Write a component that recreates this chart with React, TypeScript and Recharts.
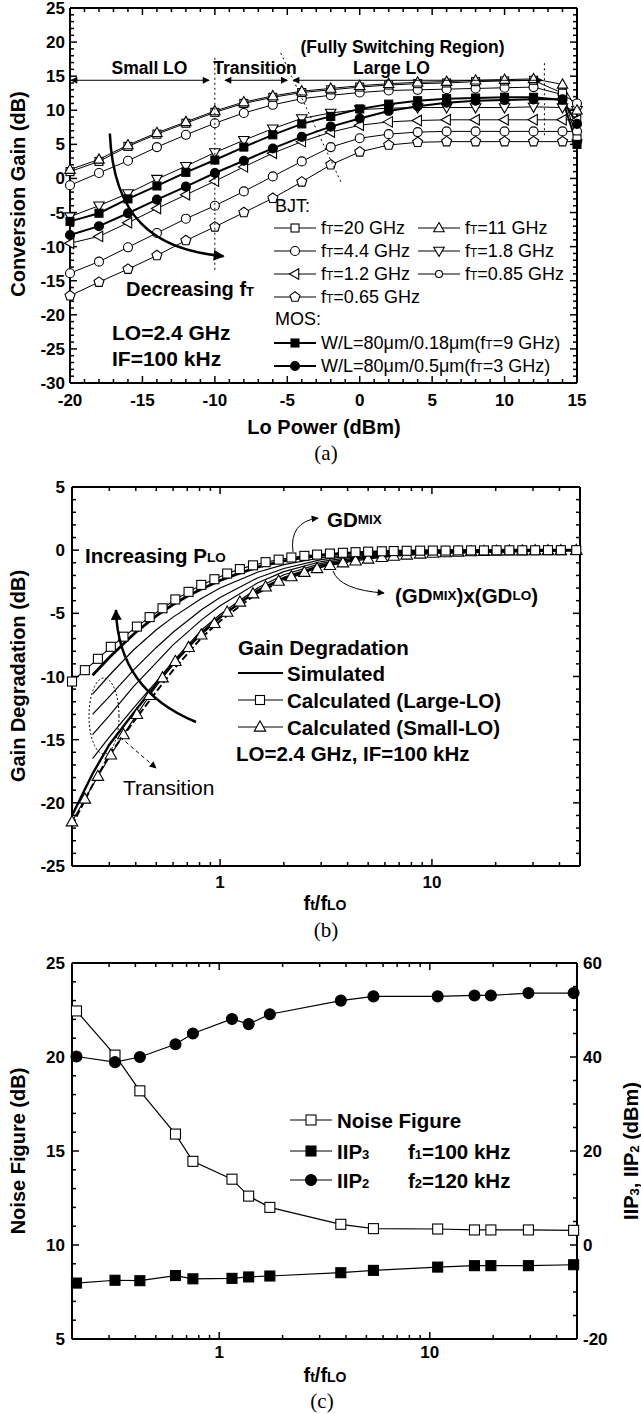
import React from "react";
import { ComposedChart, Line, XAxis, YAxis, ReferenceLine } from "recharts";

const SANS = '"Liberation Sans", Arial, Helvetica, sans-serif';
const SERIF = '"Liberation Serif", "Times New Roman", Times, serif';

// (a) conversion gain vs LO power
const loPower = [-20, -18, -16, -14, -12, -10, -8, -6, -4, -2, 0, 2, 4, 6, 8, 10, 12, 14, 15];
const bjt20 = [1.0, 2.5, 4.7, 6.5, 8.1, 9.7, 11.0, 11.9, 12.6, 13.0, 13.4, 13.7, 13.9, 14.0, 14.2, 14.3, 14.4, 12.5, 5.8];
const bjt11 = [1.3, 2.8, 4.9, 6.7, 8.3, 9.9, 11.2, 12.1, 12.8, 13.2, 13.6, 13.9, 14.1, 14.2, 14.4, 14.5, 14.6, 13.8, 10.0];
const bjt4p4 = [-1.0, 0.8, 2.6, 4.6, 6.4, 8.1, 9.6, 10.8, 11.7, 12.2, 12.6, 12.9, 13.0, 13.1, 13.2, 13.3, 13.4, 12.3, 11.0];
const bjt1p8 = [-5.6, -4.0, -2.2, -0.1, 1.8, 3.8, 5.6, 7.3, 8.8, 9.6, 10.1, 10.3, 10.4, 10.4, 10.4, 10.4, 10.5, 10.4, 10.0];
const bjt1p2 = [-9.5, -8.5, -6.5, -4.4, -2.4, -0.4, 1.7, 3.7, 5.4, 6.8, 7.8, 8.3, 8.5, 8.6, 8.6, 8.6, 8.6, 8.6, 8.6];
const bjt0p85 = [-13.9, -12.2, -10.1, -8.0, -5.9, -4.0, -1.9, 0.3, 2.5, 4.6, 5.9, 6.5, 6.8, 6.9, 6.9, 6.9, 6.9, 6.9, 6.9];
const bjt0p65 = [-17.2, -15.2, -13.3, -11.3, -9.1, -7.1, -5.0, -2.9, -0.5, 2.0, 3.9, 4.9, 5.3, 5.4, 5.4, 5.4, 5.4, 5.4, 5.4];
const mos018 = [-6.3, -5.1, -3.0, -1.1, 0.9, 2.7, 4.6, 6.4, 8.0, 9.1, 10.2, 10.9, 11.4, 11.7, 11.8, 11.9, 11.9, 11.5, 5.0];
const mos05 = [-8.3, -7.0, -5.1, -3.1, -1.2, 0.8, 2.6, 4.4, 6.1, 7.6, 8.8, 9.9, 10.6, 11.1, 11.4, 11.5, 11.6, 11.6, 8.0];
const powerTicks = [-20, -15, -10, -5, 0, 5, 10, 15];
const gainTicks = [-30, -25, -20, -15, -10, -5, 0, 5, 10, 15, 20, 25];

// (b) gain degradation vs ft/fLO
const calcRatio = [0.2, 0.23, 0.265, 0.305, 0.35, 0.405, 0.465, 0.535, 0.615, 0.71, 0.815, 0.94, 1.08, 1.24, 1.43, 1.64, 1.89, 2.17, 2.5, 2.87, 3.3, 3.8, 4.36, 5.0, 5.8, 6.6, 7.6, 8.8, 10.1, 11.6, 13.3, 15.3, 17.6, 20.2, 23.2, 26.7, 30.7, 35.3, 40.6, 48];
const gdLargeLo = [-10.4, -9.5, -8.6, -7.65, -6.85, -6.05, -5.3, -4.6, -3.9, -3.3, -2.75, -2.3, -1.85, -1.5, -1.2, -0.95, -0.75, -0.58, -0.45, -0.35, -0.27, -0.21, -0.16, -0.12, -0.09, -0.07, -0.05, -0.04, -0.03, -0.03, -0.02, -0.02, -0.02, -0.01, -0.01, -0.01, -0.01, 0, 0, 0];
const gdSmallLo = [-21.5, -19.7, -17.9, -16.2, -14.6, -13.0, -11.5, -10.1, -8.8, -7.7, -6.7, -5.8, -4.9, -4.1, -3.45, -2.9, -2.45, -2.1, -1.75, -1.45, -1.2, -1.0, -0.85, -0.7, -0.57, -0.47, -0.38, -0.3, -0.24, -0.19, -0.15, -0.12, -0.1, -0.08, -0.06, -0.05, -0.04, -0.03, -0.03, -0.02];
const simRatio = [0.25, 0.3, 0.39, 0.5, 0.6, 0.82, 1.0, 1.5, 2, 3, 5, 10, 50];
const simA = [-11.4, -9.9, -7.9, -6.3, -5.3, -3.8, -3.0, -1.75, -1.15, -0.6, -0.25, -0.08, 0];
const simB = [-13.0, -11.6, -9.5, -7.7, -6.5, -4.7, -3.75, -2.2, -1.45, -0.75, -0.3, -0.1, 0];
const simC = [-14.6, -13.1, -10.8, -8.9, -7.5, -5.5, -4.4, -2.6, -1.7, -0.9, -0.37, -0.12, 0];
const simD = [-16.5, -14.8, -12.5, -10.4, -8.8, -6.3, -5.1, -3.0, -1.95, -1.05, -0.45, -0.15, 0];
const simTopRatio = [0.25, 0.3, 0.35, 0.4, 0.5, 0.6, 0.7, 0.8, 1.0, 1.2, 1.5, 2.0, 2.5, 3.0, 4.0, 5.0, 7.0, 10, 20, 50];
const simTop = [-9.9, -8.5, -7.4, -6.5, -5.2, -4.3, -3.65, -3.15, -2.4, -1.9, -1.35, -0.85, -0.58, -0.42, -0.24, -0.16, -0.08, -0.04, -0.01, 0];
const simLowRatio = [0.2, 0.25, 0.3, 0.39, 0.5, 0.6, 0.82, 1.0, 1.5, 2, 3, 5, 10, 50];
const simLow = [-21.0, -17.7, -15.4, -12.9, -10.6, -9.0, -6.5, -5.3, -3.2, -2.2, -1.2, -0.55, -0.2, 0];
const simLowDash = [-21.8, -18.6, -16.2, -13.6, -11.2, -9.5, -6.9, -5.6, -3.4, -2.35, -1.3, -0.6, -0.22, 0];
const gdTicks = [-25, -20, -15, -10, -5, 0, 5];
const ratioTicks = [1, 10];
const ratioMinor = [0.3, 0.4, 0.5, 0.6, 0.7, 0.8, 0.9, 2, 3, 4, 5, 6, 7, 8, 9, 20, 30, 40];

// (c) noise figure and IIP3 / IIP2
const ftRatio = [0.21, 0.32, 0.42, 0.62, 0.75, 1.15, 1.38, 1.74, 3.78, 5.4, 10.9, 16.3, 19.5, 29.4, 48.2];
const noiseFigure = [22.45, 20.1, 18.2, 15.9, 14.45, 13.5, 12.6, 12.0, 11.1, 10.87, 10.85, 10.8, 10.8, 10.8, 10.78];
const iip3 = [-8.1, -7.5, -7.6, -6.5, -7.2, -7.1, -6.8, -6.6, -5.9, -5.4, -4.7, -4.4, -4.4, -4.4, -4.2];
const iip2 = [40.1, 38.9, 40.0, 42.7, 45.0, 48.1, 47.0, 49.1, 52.0, 52.9, 52.9, 53.1, 53.1, 53.6, 53.6];
const nfTicks = [5, 10, 15, 20, 25];
const iipTicks = [-20, 0, 20, 40, 60];

const steps = (a: number, b: number, s: number) => {
  const out: number[] = [];
  for (let v = a; v <= b + 1e-9; v += s) out.push(Math.round(v * 100) / 100);
  return out;
};

type Shape = "square" | "up" | "down" | "left" | "circle" | "pentagon";

function Mark({ x, y, shape, size, filled }: { x: number; y: number; shape: Shape; size: number; filled?: boolean }) {
  const common = { fill: filled ? "#000" : "#fff", stroke: "#000", strokeWidth: 1.1 };
  const h = size / 2;
  if (shape === "square") return <rect x={x - h} y={y - h} width={size} height={size} {...common} />;
  if (shape === "circle") return <circle cx={x} cy={y} r={h} {...common} />;
  let pts: number[][];
  if (shape === "up") pts = [[0, -h * 1.1], [h * 1.05, h * 0.75], [-h * 1.05, h * 0.75]];
  else if (shape === "down") pts = [[0, h * 1.1], [h * 1.05, -h * 0.75], [-h * 1.05, -h * 0.75]];
  else if (shape === "left") pts = [[-h * 1.1, 0], [h * 0.75, -h * 1.05], [h * 0.75, h * 1.05]];
  else
    pts = [0, 1, 2, 3, 4].map((k) => {
      const a = -Math.PI / 2 + (k * 2 * Math.PI) / 5;
      return [Math.cos(a) * h * 1.05, Math.sin(a) * h * 1.05];
    });
  return <polygon points={pts.map(([dx, dy]) => `${x + dx},${y + dy}`).join(" ")} {...common} />;
}

function dotOf(shape: Shape, size: number, filled = false) {
  return (p: any) => {
    const k = `m${p.index}`;
    if (p.cx == null || p.cy == null || Number.isNaN(p.cx) || Number.isNaN(p.cy)) return <g key={k} />;
    return <Mark key={k} x={p.cx} y={p.cy} shape={shape} size={size} filled={filled} />;
  };
}

const axisLine = { stroke: "#000", strokeWidth: 2 };
const tickFont = { fill: "#000", fontSize: 17, fontWeight: 700, fontFamily: SANS };
// axes take (almost) no room, so the chart margins alone fix the plot box
const THIN = 0.01;
const MAJOR = 7;
const MINOR = 4;

type FrameSpec = {
  w: number; // plot box size in px, used to turn tick lengths into data units
  h: number;
  x: [number, number];
  logX?: boolean;
  xMajor: number[];
  xMinor: number[];
  xGap: number;
  y: [number, number];
  yMajor: number[];
  yMinor: number[];
  yGap: number;
  r?: [number, number];
  rMajor?: number[];
  rMinor?: number[];
  rGap?: number;
};

// box frame: labelled bottom/left (and right) axes, closed top/right edges,
// inward major and minor ticks on every side
function frame(f: FrameSpec) {
  const [x0, x1] = f.x;
  const inFromLeft = (px: number) => (f.logX ? x0 * Math.pow(x1 / x0, px / f.w) : x0 + ((x1 - x0) * px) / f.w);
  const inFromRight = (px: number) => (f.logX ? x1 / Math.pow(x1 / x0, px / f.w) : x1 - ((x1 - x0) * px) / f.w);
  const seg = (key: string, a: { x: number; y: number }, b: { x: number; y: number }, yId = "y") => (
    <ReferenceLine key={key} segment={[a, b]} xAxisId="x" yAxisId={yId} stroke="#000" strokeWidth={1.5} ifOverflow="visible" />
  );
  const vTicks = (vals: number[], len: number, tag: string) => {
    const dy = ((f.y[1] - f.y[0]) * len) / f.h;
    return vals.flatMap((v) => [
      seg(`b${tag}${v}`, { x: v, y: f.y[0] }, { x: v, y: f.y[0] + dy }),
      seg(`t${tag}${v}`, { x: v, y: f.y[1] }, { x: v, y: f.y[1] - dy }),
    ]);
  };
  const leftTicks = (vals: number[], len: number, tag: string) =>
    vals.map((v) => seg(`l${tag}${v}`, { x: x0, y: v }, { x: inFromLeft(len), y: v }));
  const rightTicks = (vals: number[], len: number, tag: string, yId: string) =>
    vals.map((v) => seg(`r${tag}${v}`, { x: inFromRight(len), y: v }, { x: x1, y: v }, yId));

  const out: React.ReactElement[] = [
    <XAxis key="x" xAxisId="x" dataKey="x" type="number" domain={f.x} scale={f.logX ? "log" : "linear"} height={THIN} interval={0} ticks={f.xMajor} tickLine={false} tickSize={0} tickMargin={f.xGap} axisLine={axisLine} tick={tickFont} />,
    <YAxis key="y" yAxisId="y" type="number" domain={f.y} width={THIN} interval={0} ticks={f.yMajor} tickLine={false} tickSize={0} tickMargin={f.yGap} axisLine={axisLine} tick={tickFont} />,
  ];
  if (f.r)
    out.push(
      <YAxis key="r" yAxisId="r" orientation="right" type="number" domain={f.r} width={THIN} interval={0} ticks={f.rMajor} tickLine={false} tickSize={0} tickMargin={f.rGap} axisLine={false} tick={tickFont} />
    );
  out.push(
    <ReferenceLine key="top" xAxisId="x" yAxisId="y" y={f.y[1]} stroke="#000" strokeWidth={2} ifOverflow="visible" />,
    <ReferenceLine key="right" xAxisId="x" yAxisId="y" x={x1} stroke="#000" strokeWidth={2} ifOverflow="visible" />,
    ...vTicks(f.xMajor, MAJOR, "M"),
    ...vTicks(f.xMinor, MINOR, "m"),
    ...leftTicks(f.yMajor, MAJOR, "M"),
    ...leftTicks(f.yMinor, MINOR, "m")
  );
  if (f.r) out.push(...rightTicks(f.rMajor ?? [], MAJOR, "M", "r"), ...rightTicks(f.rMinor ?? [], MINOR, "m", "r"));
  else out.push(...rightTicks(f.yMajor, MAJOR, "M", "y"), ...rightTicks(f.yMinor, MINOR, "m", "y"));
  return out;
}

const gainRows = loPower.map((x, i) => ({
  x,
  b20: bjt20[i],
  b11: bjt11[i],
  b44: bjt4p4[i],
  b18: bjt1p8[i],
  b12: bjt1p2[i],
  b085: bjt0p85[i],
  b065: bjt0p65[i],
  m18: mos018[i],
  m5: mos05[i],
}));

const gainSeries: { key: string; shape: Shape; size: number; w: number; filled?: boolean }[] = [
  { key: "b065", shape: "pentagon", size: 10, w: 1 },
  { key: "b085", shape: "circle", size: 9, w: 1 },
  { key: "b12", shape: "left", size: 10, w: 1 },
  { key: "b18", shape: "down", size: 10, w: 1 },
  { key: "b44", shape: "circle", size: 9, w: 1 },
  { key: "b20", shape: "square", size: 8, w: 1 },
  { key: "b11", shape: "up", size: 10, w: 1 },
  { key: "m5", shape: "circle", size: 9, w: 2, filled: true },
  { key: "m18", shape: "square", size: 8, w: 2, filled: true },
];

const pairs = (xs: number[], ys: number[]) => xs.map((x, i) => ({ x, y: ys[i] }));

const simLines = [
  { key: "sA", data: pairs(simRatio, simA), w: 1.2 },
  { key: "sB", data: pairs(simRatio, simB), w: 1.2 },
  { key: "sC", data: pairs(simRatio, simC), w: 1.2 },
  { key: "sD", data: pairs(simRatio, simD), w: 1.2 },
  { key: "sTop", data: pairs(simTopRatio, simTop), w: 2.8 },
  { key: "sLow", data: pairs(simLowRatio, simLow), w: 2.4 },
];

const noiseRows = ftRatio.map((x, i) => ({ x, nf: noiseFigure[i], ip3: iip3[i], ip2: iip2[i] }));

// page positions of the (a) plot box, used for the annotation layer
const A = { l: 70, r: 577, t: 8, b: 383 };
const ax = (v: number) => A.l + ((v + 20) / 35) * (A.r - A.l);
const ay = (v: number) => A.b - ((v + 30) / 55) * (A.b - A.t);

const bjtLegend: { col: number; row: number; shape: Shape; size: number; label: string }[] = [
  { col: 0, row: 0, shape: "square", size: 8, label: "=20 GHz" },
  { col: 1, row: 0, shape: "up", size: 10, label: "=11 GHz" },
  { col: 0, row: 1, shape: "circle", size: 9, label: "=4.4 GHz" },
  { col: 1, row: 1, shape: "down", size: 10, label: "=1.8 GHz" },
  { col: 0, row: 2, shape: "left", size: 10, label: "=1.2 GHz" },
  { col: 1, row: 2, shape: "circle", size: 7, label: "=0.85 GHz" },
  { col: 0, row: 3, shape: "pentagon", size: 10, label: "=0.65 GHz" },
];

function Overlay() {
  const bold = { fontFamily: SANS, fontWeight: 700, fill: "#000" } as const;
  const reg = { fontFamily: SANS, fontWeight: 400, fill: "#000" } as const;
  const dotted = { stroke: "#000", strokeWidth: 1, strokeDasharray: "2 3", fill: "none" };
  const legY = (row: number) => 228 + row * 23;
  return (
    <svg width={641} height={1414} style={{ position: "absolute", left: 0, top: 0, pointerEvents: "none" }}>
      <defs>
        <marker id="hb" viewBox="0 0 10 10" refX="9" refY="5" markerWidth="14" markerHeight="11" markerUnits="userSpaceOnUse" orient="auto">
          <path d="M0,0 L10,5 L0,10 z" fill="#000" />
        </marker>
        <marker id="hs" viewBox="0 0 10 10" refX="9" refY="5" markerWidth="9" markerHeight="7" markerUnits="userSpaceOnUse" orient="auto-start-reverse">
          <path d="M0,0 L10,5 L0,10 z" fill="#000" />
        </marker>
      </defs>

      {/* (a) */}
      <text {...bold} fontSize={20} textAnchor="middle" dominantBaseline="central" transform="rotate(-90 18 194)" x={18} y={194}>
        Conversion Gain (dB)
      </text>
      <text {...bold} fontSize={20} textAnchor="middle" dominantBaseline="central" x={324} y={427}>
        Lo Power (dBm)
      </text>
      <text fontFamily={SERIF} fontSize={21} textAnchor="middle" dominantBaseline="central" x={326} y={453}>
        (a)
      </text>
      <line x1={ax(-10)} y1={ay(17.7)} x2={ax(-10)} y2={ay(-13.4)} {...dotted} />
      <line x1={ax(12.75)} y1={ay(16.9)} x2={ax(12.75)} y2={ay(6)} {...dotted} />
      <line x1={ax(-5.45)} y1={ay(18.4)} x2={ax(-1.3)} y2={ay(-0.5)} {...dotted} />
      <line x1={ax(-20) + 1} y1={ay(14.4)} x2={ax(-10.4)} y2={ay(14.4)} stroke="#000" strokeWidth={1} markerStart="url(#hs)" markerEnd="url(#hs)" />
      <line x1={ax(-9.3)} y1={ay(14.4)} x2={ax(-5.0)} y2={ay(14.4)} stroke="#000" strokeWidth={1} markerStart="url(#hs)" markerEnd="url(#hs)" />
      <line x1={ax(-4.6)} y1={ay(14.4)} x2={ax(12.6)} y2={ay(14.4)} stroke="#000" strokeWidth={1} markerStart="url(#hs)" markerEnd="url(#hs)" />
      <text {...bold} fontSize={17.5} textAnchor="middle" dominantBaseline="central" x={149.5} y={68}>Small LO</text>
      <text {...bold} fontSize={17.5} textAnchor="middle" dominantBaseline="central" x={255} y={68}>Transition</text>
      <text {...bold} fontSize={17.5} textAnchor="middle" dominantBaseline="central" x={402.5} y={47}>(Fully Switching Region)</text>
      <text {...bold} fontSize={17.5} textAnchor="middle" dominantBaseline="central" x={391.5} y={68}>Large LO</text>
      <path d={`M ${ax(-17.25)} ${ay(6.6)} C ${ax(-17.0)} ${ay(-5.4)}, ${ax(-14.4)} ${ay(-10.5)}, ${ax(-9.4)} ${ay(-11.4)}`} stroke="#000" strokeWidth={2.5} fill="none" markerEnd="url(#hb)" />
      <text {...bold} fontSize={20} dominantBaseline="central" x={126} y={289}>
        Decreasing f<tspan fontSize={13} dy={2}>T</tspan>
      </text>
      <text {...bold} fontSize={21} dominantBaseline="central" x={112} y={332}>LO=2.4 GHz</text>
      <text {...bold} fontSize={21} dominantBaseline="central" x={112} y={358}>IF=100 kHz</text>

      <text {...reg} fontSize={18} dominantBaseline="central" x={275} y={206}>BJT:</text>
      {bjtLegend.map((e) => {
        const x0 = e.col === 0 ? 274 : 418;
        const y = legY(e.row);
        return (
          <g key={e.label}>
            <line x1={x0} x2={x0 + 42} y1={y} y2={y} stroke="#000" strokeWidth={1} />
            <Mark x={x0 + 21} y={y} shape={e.shape} size={e.size} />
            <text {...reg} fontSize={18} dominantBaseline="central" x={x0 + 47} y={y}>
              f<tspan fontSize={12} dy={2}>T</tspan>
              <tspan dy={-2}>{e.label}</tspan>
            </text>
          </g>
        );
      })}
      <text {...reg} fontSize={18} dominantBaseline="central" x={275} y={319}>MOS:</text>
      <line x1={274} x2={316} y1={343} y2={343} stroke="#000" strokeWidth={2} />
      <Mark x={295} y={343} shape="square" size={8} filled />
      <text {...reg} fontSize={18} dominantBaseline="central" x={321} y={343}>
        W/L=80μm/0.18μm(f<tspan fontSize={12} dy={2}>T</tspan>
        <tspan dy={-2}>=9 GHz)</tspan>
      </text>
      <line x1={274} x2={316} y1={366} y2={366} stroke="#000" strokeWidth={2} />
      <Mark x={295} y={366} shape="circle" size={9} filled />
      <text {...reg} fontSize={18} dominantBaseline="central" x={321} y={366}>
        W/L=80μm/0.5μm(f<tspan fontSize={12} dy={2}>T</tspan>
        <tspan dy={-2}>=3 GHz)</tspan>
      </text>

      {/* (b) */}
      <text {...bold} fontSize={20} textAnchor="middle" dominantBaseline="central" transform="rotate(-90 18 676)" x={18} y={676}>
        Gain Degradation (dB)
      </text>
      <text {...bold} fontSize={20} textAnchor="middle" dominantBaseline="central" x={325} y={903}>
        f<tspan fontSize={14} dy={2}>t</tspan>
        <tspan dy={-2}>/f</tspan>
        <tspan fontSize={14} dy={2}>LO</tspan>
      </text>
      <text fontFamily={SERIF} fontSize={21} textAnchor="middle" dominantBaseline="central" x={326} y={930}>
        (b)
      </text>
      <text {...bold} fontSize={20.5} dominantBaseline="central" x={85} y={555}>
        Increasing P<tspan fontSize={13.5} dy={2}>LO</tspan>
      </text>
      <path d="M 196 722 Q 118 690 116 610" stroke="#000" strokeWidth={2.5} fill="none" markerEnd="url(#hb)" />
      <path d="M 293 552 Q 289 522 318 518" stroke="#000" strokeWidth={1} fill="none" markerEnd="url(#hs)" />
      <text {...bold} fontSize={20.5} dominantBaseline="central" x={327} y={519}>
        GD<tspan fontSize={13.5}>MIX</tspan>
      </text>
      <path d="M 333 571 Q 340 590 384 593" stroke="#000" strokeWidth={1} fill="none" markerEnd="url(#hs)" />
      <text {...bold} fontSize={20.5} dominantBaseline="central" x={395} y={595}>
        (GD<tspan fontSize={13.5}>MIX</tspan>)x(GD<tspan fontSize={13.5}>LO</tspan>)
      </text>
      <ellipse cx={104} cy={716} rx={15} ry={38} stroke="#000" strokeWidth={1} strokeDasharray="2 2" fill="none" />
      <line x1={120} y1={737} x2={156} y2={768} stroke="#000" strokeWidth={1} strokeDasharray="4 3" markerEnd="url(#hs)" />
      <text {...reg} fontSize={21} dominantBaseline="central" x={123} y={787}>Transition</text>

      <text {...bold} fontSize={20.5} dominantBaseline="central" x={238} y={647}>Gain Degradation</text>
      <line x1={238} x2={283} y1={673} y2={673} stroke="#000" strokeWidth={2} />
      <text {...bold} fontSize={20.5} dominantBaseline="central" x={287} y={673}>Simulated</text>
      <line x1={238} x2={283} y1={700} y2={700} stroke="#000" strokeWidth={1.2} />
      <Mark x={260} y={700} shape="square" size={9} />
      <text {...bold} fontSize={20.5} dominantBaseline="central" x={287} y={700}>Calculated (Large-LO)</text>
      <line x1={238} x2={283} y1={727} y2={727} stroke="#000" strokeWidth={1.2} />
      <Mark x={260} y={727} shape="up" size={11} />
      <text {...bold} fontSize={20.5} dominantBaseline="central" x={287} y={727}>Calculated (Small-LO)</text>
      <text {...bold} fontSize={20.5} dominantBaseline="central" x={236} y={753}>LO=2.4 GHz, IF=100 kHz</text>

      {/* (c) */}
      <text {...bold} fontSize={20} textAnchor="middle" dominantBaseline="central" transform="rotate(-90 18 1151)" x={18} y={1151}>
        Noise Figure (dB)
      </text>
      <text {...bold} fontSize={20} textAnchor="middle" dominantBaseline="central" transform="rotate(-90 631 1151)" x={631} y={1151}>
        IIP<tspan fontSize={13} dy={3}>3</tspan>
        <tspan dy={-3}>, IIP</tspan>
        <tspan fontSize={13} dy={3}>2</tspan>
        <tspan dy={-3}> (dBm)</tspan>
      </text>
      <text {...bold} fontSize={20} textAnchor="middle" dominantBaseline="central" x={325} y={1375}>
        f<tspan fontSize={14} dy={2}>t</tspan>
        <tspan dy={-2}>/f</tspan>
        <tspan fontSize={14} dy={2}>LO</tspan>
      </text>
      <text fontFamily={SERIF} fontSize={21} textAnchor="middle" dominantBaseline="central" x={322} y={1401}>
        (c)
      </text>
      <line x1={290} x2={332} y1={1120} y2={1120} stroke="#000" strokeWidth={1.2} />
      <Mark x={311} y={1120} shape="square" size={10} />
      <text {...bold} fontSize={20.5} dominantBaseline="central" x={337} y={1120}>Noise Figure</text>
      <line x1={290} x2={332} y1={1151} y2={1151} stroke="#000" strokeWidth={1.2} />
      <Mark x={311} y={1151} shape="square" size={10} filled />
      <text {...bold} fontSize={20.5} dominantBaseline="central" x={337} y={1151}>
        IIP<tspan fontSize={13} dy={3}>3</tspan>
      </text>
      <line x1={290} x2={332} y1={1180} y2={1180} stroke="#000" strokeWidth={1.2} />
      <Mark x={311} y={1180} shape="circle" size={11} filled />
      <text {...bold} fontSize={20.5} dominantBaseline="central" x={337} y={1180}>
        IIP<tspan fontSize={13} dy={3}>2</tspan>
      </text>
      <text {...bold} fontSize={20.5} dominantBaseline="central" x={408} y={1151}>
        f<tspan fontSize={13} dy={3}>1</tspan>
        <tspan dy={-3}>=100 kHz</tspan>
      </text>
      <text {...bold} fontSize={20.5} dominantBaseline="central" x={408} y={1180}>
        f<tspan fontSize={13} dy={3}>2</tspan>
        <tspan dy={-3}>=120 kHz</tspan>
      </text>
    </svg>
  );
}

export default function App() {
  return (
    <div style={{ position: "absolute", left: 0, top: 0, width: 641, height: 1414, background: "#fff", fontFamily: SANS }}>
      <div style={{ position: "absolute", left: 0, top: 0 }}>
        <ComposedChart width={641} height={470} data={gainRows} margin={{ top: 8, right: 64, bottom: 87, left: 70 }}>
          {frame({
            w: 507,
            h: 375,
            x: [-20, 15],
            xMajor: powerTicks,
            xMinor: steps(-20, 15, 1).filter((v) => v % 5 !== 0),
            xGap: 11,
            y: [-30, 25],
            yMajor: gainTicks,
            yMinor: steps(-30, 25, 1).filter((v) => v % 5 !== 0),
            yGap: 5,
          })}
          {gainSeries.map((s) => (
            <Line
              key={s.key}
              xAxisId="x"
              yAxisId="y"
              dataKey={s.key}
              stroke="#000"
              strokeWidth={s.w}
              dot={dotOf(s.shape, s.size, s.filled)}
              activeDot={false}
              isAnimationActive={false}
            />
          ))}
        </ComposedChart>
      </div>

      <div style={{ position: "absolute", left: 0, top: 460 }}>
        <ComposedChart width={641} height={470} margin={{ top: 27, right: 61, bottom: 64, left: 72 }}>
          {frame({
            w: 508,
            h: 379,
            x: [0.2, 50],
            logX: true,
            xMajor: ratioTicks,
            xMinor: ratioMinor,
            xGap: 10,
            y: [-25, 5],
            yMajor: gdTicks,
            yMinor: steps(-25, 5, 1).filter((v) => v % 5 !== 0),
            yGap: 7,
          })}
          {simLines.map((s) => (
            <Line key={s.key} data={s.data} xAxisId="x" yAxisId="y" dataKey="y" stroke="#000" strokeWidth={s.w} dot={false} activeDot={false} isAnimationActive={false} />
          ))}
          <Line data={pairs(simLowRatio, simLowDash)} xAxisId="x" yAxisId="y" dataKey="y" stroke="#000" strokeWidth={2} strokeDasharray="7 3" dot={false} activeDot={false} isAnimationActive={false} />
          <Line data={pairs(calcRatio, gdSmallLo)} xAxisId="x" yAxisId="y" dataKey="y" stroke="#000" strokeWidth={1.1} dot={dotOf("up", 11)} activeDot={false} isAnimationActive={false} />
          <Line data={pairs(calcRatio, gdLargeLo)} xAxisId="x" yAxisId="y" dataKey="y" stroke="#000" strokeWidth={1.1} dot={dotOf("square", 9)} activeDot={false} isAnimationActive={false} />
        </ComposedChart>
      </div>

      <div style={{ position: "absolute", left: 0, top: 940 }}>
        <ComposedChart width={641} height={474} data={noiseRows} margin={{ top: 23, right: 64, bottom: 75, left: 72 }}>
          {frame({
            w: 505,
            h: 376,
            x: [0.2, 50],
            logX: true,
            xMajor: ratioTicks,
            xMinor: ratioMinor,
            xGap: 7,
            y: [5, 25],
            yMajor: nfTicks,
            yMinor: steps(5, 25, 1).filter((v) => v % 5 !== 0),
            yGap: 7,
            r: [-20, 60],
            rMajor: iipTicks,
            rMinor: steps(-20, 60, 5).filter((v) => v % 20 !== 0),
            rGap: 6,
          })}
          <Line xAxisId="x" yAxisId="y" dataKey="nf" stroke="#000" strokeWidth={1.2} dot={dotOf("square", 10)} activeDot={false} isAnimationActive={false} />
          <Line xAxisId="x" yAxisId="r" dataKey="ip3" stroke="#000" strokeWidth={1.2} dot={dotOf("square", 10, true)} activeDot={false} isAnimationActive={false} />
          <Line xAxisId="x" yAxisId="r" dataKey="ip2" stroke="#000" strokeWidth={1.2} dot={dotOf("circle", 11, true)} activeDot={false} isAnimationActive={false} />
        </ComposedChart>
      </div>

      <Overlay />
    </div>
  );
}
